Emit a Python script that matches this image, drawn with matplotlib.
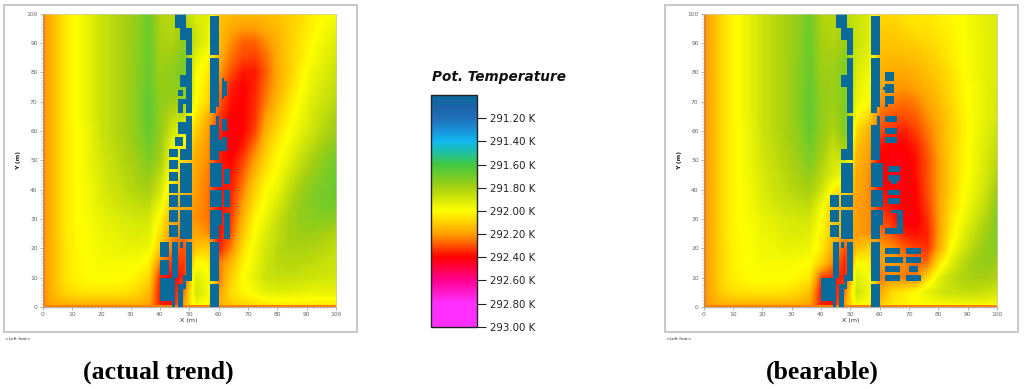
import numpy as np
import matplotlib
matplotlib.use("Agg")
import matplotlib.pyplot as plt
from matplotlib.colors import LinearSegmentedColormap, Normalize
from matplotlib.patches import Rectangle
from matplotlib.cm import ScalarMappable

W, H = 1024, 389

# colour scale
scale_temps = [291.0, 291.1, 291.2, 291.3, 291.4, 291.5, 291.6, 291.8, 292.0, 292.2, 292.4, 292.6, 292.8, 293.0]
scale_colors = ["#0a6a9a", "#1a62a8", "#2070b8", "#1a90d8", "#10b8f0", "#20c0a0", "#40c840", "#a8d010",
                "#ffff00", "#ffa000", "#ff0000", "#ff0090", "#ff30ff", "#ff30ff"]
tick_temps = [291.2, 291.4, 291.6, 291.8, 292.0, 292.2, 292.4, 292.6, 292.8, 293.0]

# temperature above 291 K in hundredths, estimated every 4 m in x (0..100), rows y = 100 down to 0 every 5 m
field_actual = [
    [122,113,104,99,94,88,84,80,76,68,82,84,84,92,92,112,114,114,114,113,112,110,107,103,100,98],
    [122,113,104,99,94,88,84,80,76,68,81,83,80,90,94,113,118,120,120,117,114,110,106,102,98,95],
    [122,113,104,99,94,88,84,80,75,68,80,82,74,88,95,114,122,128,128,122,116,110,105,100,96,92],
    [122,113,104,99,94,88,84,80,75,68,79,78,72,94,100,116,126,131,132,126,117,110,104,98,94,90],
    [122,113,104,99,94,88,84,80,74,68,78,75,70,98,104,120,130,137,137,128,117,110,102,96,92,88],
    [122,113,104,99,94,88,84,80,74,67,77,76,74,99,106,124,136,140,136,126,117,108,100,94,90,86],
    [122,113,104,99,94,88,84,80,74,66,76,78,78,100,108,128,138,140,135,124,114,105,98,92,88,84],
    [122,113,104,99,94,88,84,80,74,66,76,84,86,105,115,132,140,140,134,120,110,102,96,90,85,80],
    [122,113,104,100,95,88,84,80,75,67,76,90,95,110,120,135,142,140,132,116,107,100,94,88,82,78],
    [122,113,104,100,95,89,85,81,76,69,78,95,102,115,121,136,142,137,126,112,103,97,90,84,78,74],
    [122,113,104,100,95,90,86,82,78,72,80,98,108,118,122,136,140,132,120,108,100,94,86,80,74,70],
    [122,113,104,100,96,91,87,84,80,76,85,103,112,119,124,136,138,128,115,104,98,90,82,76,72,68],
    [122,113,104,100,97,92,88,85,82,80,90,108,115,120,125,138,136,124,110,100,95,86,78,73,70,68],
    [122,113,104,100,97,93,90,88,86,85,96,113,118,121,125,138,134,120,106,98,91,82,76,72,70,70],
    [122,113,104,100,98,95,93,91,90,90,102,118,120,122,125,138,132,116,102,95,87,80,76,74,74,75],
    [122,113,104,101,99,96,95,93,92,93,107,122,125,118,122,138,130,112,100,92,85,80,78,78,80,82],
    [122,113,105,101,99,97,96,95,95,96,112,125,130,112,110,136,124,107,97,90,84,81,81,82,84,86],
    [122,113,105,101,100,98,98,98,99,102,125,133,133,100,102,125,115,103,96,88,84,83,84,85,87,88],
    [122,113,105,102,100,99,100,100,103,108,136,140,135,92,98,125,110,100,94,88,87,87,88,89,90,90],
    [122,114,108,106,105,105,105,106,108,114,138,140,125,90,96,120,107,102,98,94,93,93,94,95,95,95],
    [122,118,118,118,118,118,118,118,118,120,136,138,118,98,102,115,112,110,108,106,106,106,106,106,106,106],
]
field_bearable = [
    [122,113,104,99,94,88,84,80,76,68,82,84,84,88,92,108,108,106,104,104,103,101,100,96,94,92],
    [122,113,104,99,94,88,84,80,76,68,81,83,82,88,92,110,110,108,106,106,104,102,100,96,94,92],
    [122,113,104,99,94,88,84,80,75,68,80,82,78,88,92,112,112,111,110,108,106,103,100,97,94,92],
    [122,113,104,99,94,88,84,80,75,68,79,80,74,90,94,114,115,114,113,111,108,104,100,97,94,92],
    [122,113,104,99,94,88,84,80,74,68,78,78,72,92,96,116,118,118,116,113,110,106,101,97,94,92],
    [122,113,104,99,94,88,84,80,74,67,77,78,72,94,98,118,120,121,119,116,112,107,102,98,94,92],
    [122,113,104,99,94,88,84,80,74,66,76,78,72,96,100,122,124,126,124,119,114,108,102,98,94,91],
    [122,113,104,99,94,88,84,80,74,66,76,80,72,100,108,126,130,130,128,122,116,110,103,98,94,90],
    [122,113,104,100,95,88,84,80,75,67,76,82,72,108,116,130,134,136,132,125,118,110,104,98,93,88],
    [122,113,104,100,95,89,85,81,76,69,78,86,78,113,118,138,140,140,136,128,118,110,103,97,92,86],
    [122,113,104,100,95,90,86,82,78,72,80,90,88,116,120,140,142,142,138,130,120,110,103,97,91,84],
    [122,113,104,100,96,91,87,84,80,76,84,92,98,118,121,140,142,142,138,130,120,110,102,96,90,82],
    [122,113,104,100,97,92,88,85,82,80,88,102,108,118,122,138,140,142,140,130,120,110,101,95,88,78],
    [122,113,104,100,97,93,90,88,86,85,96,112,114,120,122,136,138,140,140,132,120,108,100,93,85,74],
    [122,113,104,100,98,95,93,91,90,90,100,112,116,120,122,130,135,142,142,134,120,106,97,90,82,72],
    [122,113,104,101,99,96,95,93,92,93,102,112,118,120,122,125,130,136,138,136,120,104,94,86,78,72],
    [122,113,105,101,99,97,96,95,95,96,104,118,130,114,110,120,122,128,132,134,118,100,90,82,76,74],
    [122,113,105,101,100,98,98,98,99,100,110,124,136,100,102,120,120,122,128,126,106,94,84,78,76,78],
    [122,113,105,102,100,99,100,100,102,104,132,135,136,92,98,125,122,125,125,108,94,86,82,80,80,82],
    [122,114,108,106,105,105,105,106,108,114,138,140,125,88,96,118,108,104,100,94,90,87,86,86,88,90],
    [122,118,118,118,118,118,118,118,118,120,136,138,118,98,102,110,104,102,100,100,100,100,100,100,100,100],
]
edge_temp = 292.24
building_temp = 291.0

# building footprints (x0, x1, y0, y1) in metres
blocks_both = [
    (45,49,95,100),(47,51,91,95),(49,51,86,91),(49,51,66,85),(47,49,75,79),
    (49,51,50,65),(47,51,50,54),(47,51,39,49),(47,51,34,38),(47,51,23,33),
    (43,46,34,38),(43,46,29,33),(43,46,24,28),
    (57,60,86,99),(57,60,68,85),(57,59,66,68),(59,60,62,65),(57,60,50,62),
    (57,61,41,49),(57,61,34,40),(57,61,28,33),(57,60,23,28),(57,60,9,22),(57,60,0,8),
    (40,45,2,10),(44,46,10,22),(44,45,0,2),(46,48,0,7),(46,48,7,8),(48,49,6,9),
    (49,51,11,22),(48,51,9,11),(47,48,20,22),
]
blocks_actual = [
    (46,48,72,74),(46,49,69,71),(46,48,66,69),(46,49,59,63),(45,48,55,58),(47,49,50,54),
    (43,46,51,54),(43,46,47,50),(43,46,43,46),(43,46,39,42),
    (61,62,71,78),(62,63,72,77),(61,63,60,64),(60,63,53,57),(61,63,57,58),
    (62,64,42,47),(62,64,34,40),(62,64,23,32),
    (40,43,17,22),(40,43,11,16),
]
blocks_bearable = [
    (62,65,77,80),(62,65,73,76),(61,62,74,75),(62,65,69,72),(62,63,68,69),
    (62,66,63,65),(62,66,59,61),(62,66,56,58),
    (63,67,46,48),(63,67,43,45),(64,66,42,43),(63,67,38,40),(63,67,35,37),
    (64,68,32,33),(66,68,25,32),(62,68,25,27),
    (62,67,18,20),(62,68,15,17),(62,67,12,14),(62,67,9,11),
    (69,74,18,20),(69,74,15,17),(70,73,12,14),(69,74,9,11),
]

x_ticks = list(range(0, 101, 10))
caption_actual = "(actual trend)"
caption_bearable = "(bearable)"

cmap = LinearSegmentedColormap.from_list(
    "pot", [((t - 291.0) / 2.0, c) for t, c in zip(scale_temps, scale_colors)], N=512)
norm = Normalize(291.0, 293.0)


def px_axes(x0, x1, y0, y1):
    return fig.add_axes([x0 / W, 1 - y1 / H, (x1 - x0) / W, (y1 - y0) / H])


def panel(frame, box, field, blocks, caption, cap_x):
    fx0, fx1 = frame
    fig.add_artist(Rectangle((fx0 / W, 1 - 332 / H), (fx1 - fx0) / W, 327.5 / H, transform=fig.transFigure,
                             fill=False, edgecolor="#c4c4c4", linewidth=1.3))
    ax = px_axes(*box)
    temps = 291 + np.array(field) / 100
    ax.imshow(temps, extent=(-2, 102, -2.5, 102.5), cmap=cmap, norm=norm, aspect="auto", interpolation="bilinear")
    ax.axvspan(0, 0.8, color=cmap(norm(edge_temp)), lw=0)
    ax.axhspan(0, 0.8, color=cmap(norm(edge_temp)), lw=0)
    for x0, x1, y0, y1 in blocks:
        ax.add_patch(Rectangle((x0, y0), x1 - x0, y1 - y0, facecolor=cmap(norm(building_temp)), edgecolor="none"))
    ax.set_xlim(0, 100)
    ax.set_ylim(0, 100)
    ax.set_xticks(x_ticks)
    ax.set_yticks(x_ticks)
    ax.set_xticks(range(0, 101), minor=True)
    ax.set_yticks(range(0, 101), minor=True)
    ax.tick_params(which="major", length=2.5, width=0.4, color="#777777", labelsize=4.3, labelcolor="#666666", pad=1)
    ax.tick_params(which="minor", length=1.2, width=0.3, color="#888888")
    for s in ax.spines.values():
        s.set_linewidth(0.5)
        s.set_color("#999999")
    ax.spines["top"].set_color("#c8c8c8")
    ax.spines["right"].set_color("#c8c8c8")
    ax.set_xlabel("X (m)", fontsize=4.6, color="#333333", labelpad=0.5)
    ax.set_ylabel("Y (m)", fontsize=4.6, color="#222222", fontweight="bold", labelpad=4)
    fig.text((fx0 + 1) / W, 1 - 338.5 / H, "<Left foot>", fontsize=3.2, color="#333333", va="center")
    fig.text(cap_x / W, 1 - 372 / H, caption, fontsize=18.5, fontweight="bold",
             family="Liberation Serif", ha="center", va="center", color="black")


fig = plt.figure(figsize=(W / 100, H / 100), dpi=100)

panel((4, 357), (42.5, 336, 13.5, 307), field_actual, blocks_both + blocks_actual, caption_actual, 158.5)
panel((665, 1018), (703.5, 997, 13.5, 307), field_bearable, blocks_both + blocks_bearable, caption_bearable, 822.5)

cax = px_axes(431, 477, 95, 326.7)
cb = fig.colorbar(ScalarMappable(norm=norm, cmap=cmap), cax=cax, ticks=tick_temps)
cax.invert_yaxis()
cb.ax.set_yticklabels([f"{t:.2f} K" for t in tick_temps])
cb.ax.tick_params(length=6.5, width=0.8, color="#222222", labelsize=7.4, labelcolor="#222222", pad=3)
cb.outline.set_linewidth(1.0)
cb.outline.set_edgecolor("#222222")
fig.text(499 / W, 1 - 77 / H, "Pot. Temperature", fontsize=9.8, fontweight="bold", fontstyle="italic",
         ha="center", va="center", color="#111111")

fig.savefig("out.png", dpi=100)
